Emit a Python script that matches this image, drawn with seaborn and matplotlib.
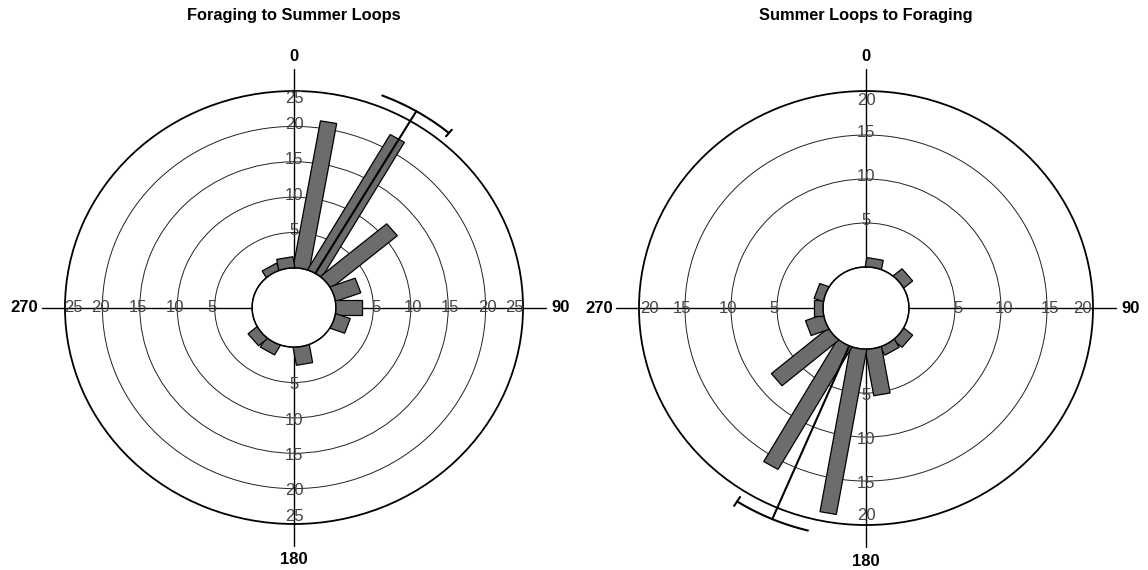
import numpy as np
import matplotlib
matplotlib.use("Agg")
import matplotlib.pyplot as plt
from matplotlib.patches import Polygon
import seaborn as sns

# 20 degree bins (centre angles, clockwise from north)
bin_centres = [10, 30, 50, 70, 90, 110, 130, 150, 170,
               190, 210, 230, 250, 270, 290, 310, 330, 350]

# Foraging -> Summer Loops
fs_counts = [21, 22, 11.5, 3.5, 3.5, 2, 0, 0, 2.5,
             0, 1.5, 1.5, 0, 0, 0, 0, 1, 1.5]
fs_rings = [5, 10, 15, 20, 25]
fs_mean = 30.5
fs_ci = [21.5, 40]

# Summer Loops -> Foraging
sf_counts = [1, 0, 1.2, 0, 0, 0, 1.2, 1, 5.3,
             19, 16, 8, 2, 1, 1, 0, 0, 0]
sf_rings = [5, 10, 15, 20]
sf_mean = 203
sf_ci = [194, 212.5]

cardinals = ["0", "90", "180", "270"]

sns.set_style("white")
plt.rcParams["font.family"] = ["Liberation Sans", "DejaVu Sans"]


def draw_rose(ax, counts, rings, mean, ci, hole, half_w, ext, arc_r):
    rmax = rings[-1]
    ax.set_aspect("auto")
    ax.set_theta_zero_location("N")
    ax.set_theta_direction(-1)
    ax.set_rorigin(-hole)
    ax.set_ylim(0, rmax)
    ax.set_rgrids(rings[:-1])
    ax.set_yticklabels([])
    ax.set_xticks([])
    ax.yaxis.grid(True, color="#222222", lw=0.7)
    for name in ("inner", "start", "end"):
        if name in ax.spines:
            ax.spines[name].set_visible(False)
    ax.spines["polar"].set_color("black")
    ax.spines["polar"].set_linewidth(1.3)

    # bars drawn as rectangles (constant width), like the original rose
    for ang, c in zip(bin_centres, counts):
        if c <= 0:
            continue
        th = np.deg2rad(ang)
        verts = []
        for dist, side in [(hole * 0.5, -1), (hole + c, -1), (hole + c, 1), (hole * 0.5, 1)]:
            verts.append((th + side * np.arctan2(half_w, dist),
                          np.hypot(dist, half_w) - hole))
        ax.add_patch(Polygon(verts, closed=True, facecolor="#6c6c6c",
                             edgecolor="black", lw=0.9, zorder=3))

    # inner circle
    full = np.linspace(0, 2 * np.pi, 361)
    ax.plot(full, np.zeros_like(full), color="black", lw=1.1,
            clip_on=False, zorder=5)

    # axis cross
    for ang in (0, 90, 180, 270):
        th = np.deg2rad(ang)
        ax.plot([th, th], [0, rmax + ext], color="black", lw=1.0,
                clip_on=False, zorder=2)
        for v in rings:
            r = v - 1.1 if v == rmax else v + 0.3
            ax.text(th, r, str(v), ha="center", va="center", fontsize=12,
                    color="#444444", clip_on=False, zorder=6)

    # mean vector and confidence arc
    m = np.deg2rad(mean)
    ax.plot([m, m], [0, arc_r], color="black", lw=1.5, clip_on=False, zorder=6)
    arc = np.linspace(np.deg2rad(ci[0]), np.deg2rad(ci[1]), 60)
    ax.plot(arc, np.full_like(arc, arc_r), color="black", lw=1.5,
            clip_on=False, zorder=6)
    tip = np.deg2rad(ci[1])
    ax.plot([tip, tip], [arc_r - 0.6, arc_r + 0.6], color="black", lw=1.5,
            clip_on=False, zorder=6)

    # compass labels
    pos = [(0.5, 1.079), (1.083, 0.5), (0.5, -0.083), (-0.088, 0.5)]
    for lab, (x, y) in zip(cardinals, pos):
        ax.text(x, y, lab, transform=ax.transAxes, ha="center", va="center",
                fontsize=12, fontweight="bold", color="black")


fig = plt.figure(figsize=(11.48, 5.70), dpi=100)
ax1 = fig.add_axes([0.0566, 0.0807, 0.399, 0.7596], projection="polar")
ax2 = fig.add_axes([0.5566, 0.0789, 0.3955, 0.7614], projection="polar")

draw_rose(ax1, fs_counts, fs_rings, fs_mean, fs_ci,
          hole=5.6, half_w=1.1, ext=3.1, arc_r=26.6)
draw_rose(ax2, sf_counts, sf_rings, sf_mean, sf_ci,
          hole=4.67, half_w=0.9, ext=2.5, arc_r=21.4)

fig.text(0.256, 0.972, "Foraging to Summer Loops", ha="center", va="center",
         fontsize=11.8, fontweight="bold", color="black")
fig.text(0.754, 0.972, "Summer Loops to Foraging", ha="center", va="center",
         fontsize=11.8, fontweight="bold", color="black")

fig.savefig("out.png", dpi=100)
